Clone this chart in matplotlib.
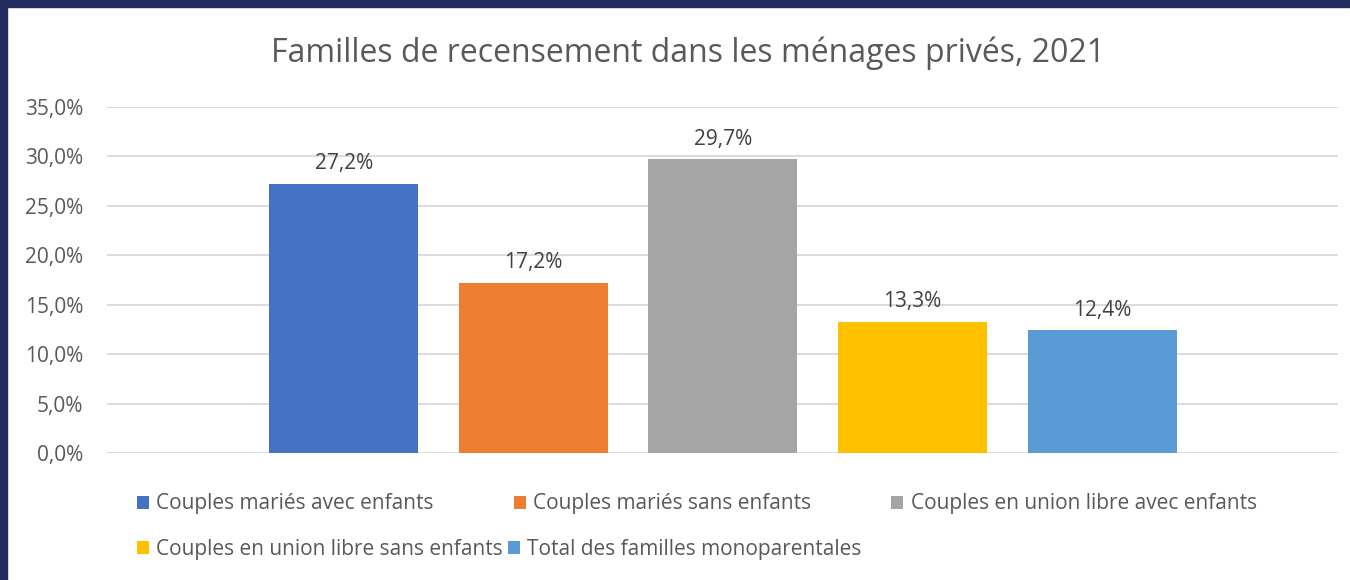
import matplotlib.pyplot as plt
from matplotlib.patches import Patch, Rectangle

# data
series = ["Couples mariés avec enfants", "Couples mariés sans enfants",
          "Couples en union libre avec enfants", "Couples en union libre sans enfants",
          "Total des familles monoparentales"]
values = [27.2, 17.2, 29.7, 13.3, 12.4]
colors = ["#4472C4", "#ED7D31", "#A5A5A5", "#FFC000", "#5B9BD5"]
yticks = [0, 5, 10, 15, 20, 25, 30, 35]

plt.rcParams['font.family'] = ['Open Sans', 'DejaVu Sans']

fig = plt.figure(figsize=(13.5, 5.8), dpi=100)
fig.patch.set_facecolor("white")
# dark frame on the left and top
fig.patches.append(Rectangle((0, 0), 7 / 1350, 1, transform=fig.transFigure, color="#242B5E", zorder=0))
fig.patches.append(Rectangle((0, 1 - 7 / 580), 1, 7 / 580, transform=fig.transFigure, color="#242B5E", zorder=0))

W, H = 1350, 580
ax = fig.add_axes([107 / W, 1 - 453 / H, (1338 - 107) / W, (453 - 107) / H])

x = list(range(len(values)))
bars = ax.bar(x, values, width=0.786, color=colors, zorder=3)
for xi, v in zip(x, values):
    ax.annotate(("%.1f%%" % v).replace(".", ","), (xi, v), xytext=(0, 7), textcoords="offset points",
                ha="center", va="bottom", fontsize=15, color="#404040")

ax.set_xlim(-1.25, 5.245)
ax.set_ylim(0, 35)
ax.set_yticks(yticks)
ax.set_yticklabels([("%.1f%%" % t).replace(".", ",") for t in yticks], fontsize=15, color="#595959")
ax.tick_params(axis="y", length=0, pad=17)
ax.set_xticks([])
ax.grid(axis="y", color="#D9D9D9", linewidth=1.3, zorder=0)
for s in ax.spines.values():
    s.set_visible(False)

fig.text(688 / W, 1 - 53 / H, "Familles de recensement dans les ménages privés, 2021",
         ha="center", va="center", fontsize=23, color="#595959")

handles = [Patch(facecolor=c) for c in colors]
fig.legend(handles[:3], series[:3], loc="center left", bbox_to_anchor=(137 / W, 1 - 504 / H),
           ncol=3, frameon=False, fontsize=15, handlelength=0.58, handleheight=0.58,
           handletextpad=0.34, columnspacing=3.85, borderpad=0, borderaxespad=0,
           labelcolor="#595959")
fig.legend(handles[3:], series[3:], loc="center left", bbox_to_anchor=(137 / W, 1 - 549 / H),
           ncol=2, frameon=False, fontsize=15, handlelength=0.58, handleheight=0.58,
           handletextpad=0.34, columnspacing=0.25, borderpad=0, borderaxespad=0,
           labelcolor="#595959")

fig.savefig("out.png", dpi=100)
